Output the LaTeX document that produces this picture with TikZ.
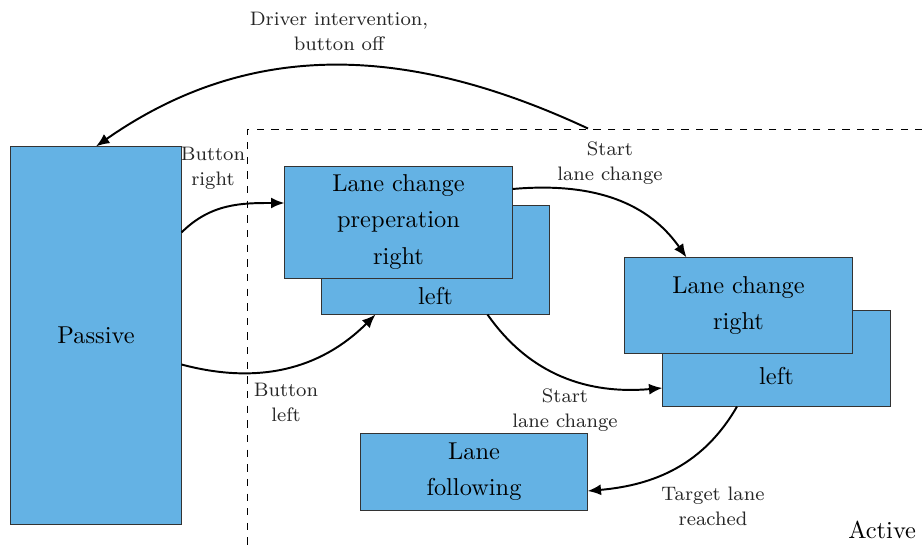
\documentclass[tikz,border=0pt]{standalone}
\usetikzlibrary{arrows.meta,calc}
\definecolor{boxblue}{RGB}{100,178,228}

\begin{document}
\begin{tikzpicture}[x=0.01441cm,y=-0.01441cm,thick,>={Latex[length=5.5pt,width=4.5pt]},
    mode/.style={draw=black!80,thin,fill=boxblue,inner sep=0pt,align=center,
                 font=\fontsize{10}{14.8}\selectfont},
    lbl/.style={align=center,text=black!85,font=\fontsize{8}{10.25}\selectfont}]

        \useasboundingbox (0,0) rectangle (922,547);
        \clip (0,0) rectangle (922,547);

        % active region
        \node[draw,dashed,thin,inner sep=0pt,minimum width=278.8pt,minimum height=175pt] (act) at (588,342.5) {};
        \node[anchor=south east,inner sep=0pt] (actlbl) at (917,540) {Active};

        \node[mode,minimum width=69.7pt,minimum height=154.6pt]  (pas) at (96,335.5)  {Passive};
        \node[mode,minimum width=93.1pt,minimum height=44.3pt]   (prl) at (435.5,260) {\phantom{Lane change}\\\phantom{preperation}\\left};
        \node[mode,minimum width=93.1pt,minimum height=45.9pt]   (prr) at (398.5,222) {Lane change\\preperation\\right};
        \node[mode,minimum width=93.1pt,minimum height=39pt]     (lcl) at (776.5,358.5) {\phantom{Lane change}\\left};
        \node[mode,minimum width=93.1pt,minimum height=39pt]     (lcr) at (738.5,305.5) {Lane change\\right};
        \node[mode,minimum width=92.7pt,minimum height=31.2pt]   (lf)  at (474,472)   {Lane\\following};

        \path[->] ($(pas.east)+(0,-103)$) edge[out=45,in=180]   ($(prr.west)+(0,-19)$)
                  ($(pas.east)+(0,29)$)   edge[out=-15,in=-135] ($(prl.south)+(-60,0)$)
                  ($(prr.east)+(0,-33)$)  edge[out=5,in=125]    ($(lcr.north)+(-52,0)$)
                  ($(prl.south)+(52,0)$)  edge[out=-55,in=185]  ($(lcl.west)+(0,29.5)$)
                  ($(lcl.south)+(-39.5,0)$) edge[out=-120,in=5] ($(lf.east)+(0,19)$)
                  (act.north)             edge[out=155,in=35]   (pas.north);

        \node[lbl] (l1) at (339,31)  {Driver intervention,\\button off};
        \node[lbl] (l2) at (213,168) {Button\\right};
        \node[lbl] (l3) at (610,163) {Start\\lane change};
        \node[lbl] (l4) at (286,402) {Button\\left};
        \node[lbl] (l5) at (565,410) {Start\\lane change};
        \node[lbl] (l6) at (713,506) {Target lane\\reached};
\end{tikzpicture}
\end{document}
